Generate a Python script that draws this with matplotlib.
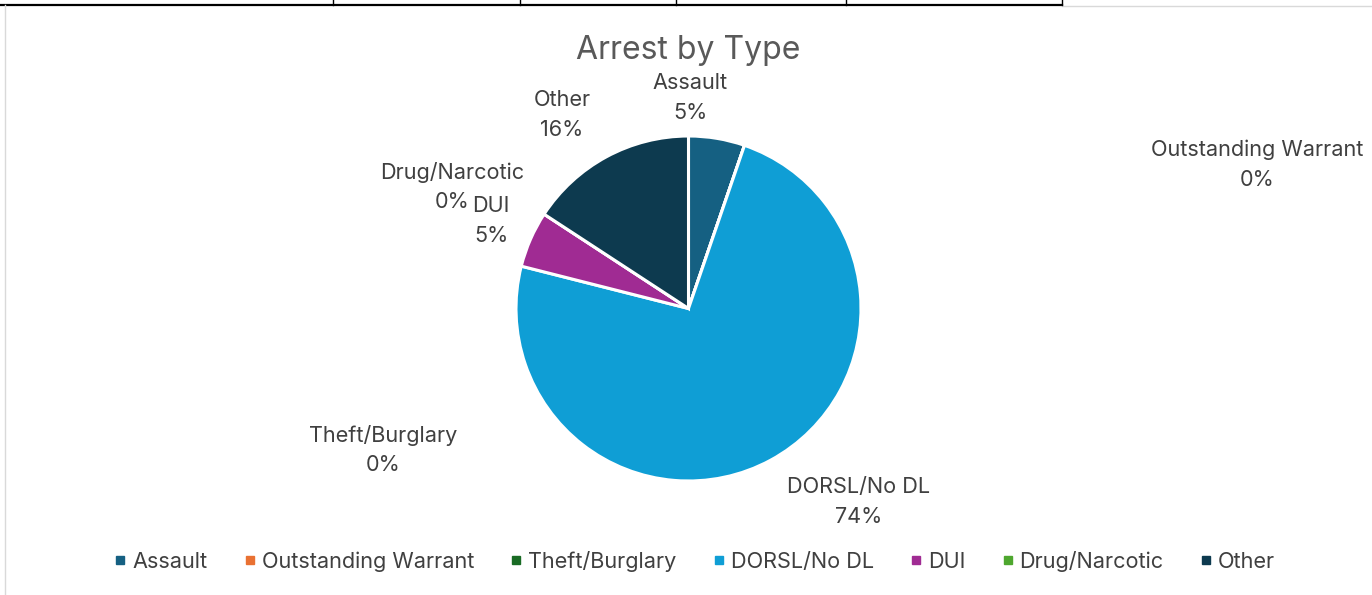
import matplotlib
matplotlib.use('Agg')
import matplotlib.pyplot as plt
from matplotlib.lines import Line2D

# ----------------------------------------------------------------------------
# Data (arrest counts by type)
# ----------------------------------------------------------------------------
categories = ["Assault", "Outstanding Warrant", "Theft/Burglary", "DORSL/No DL",
              "DUI", "Drug/Narcotic", "Other"]
counts = [1, 0, 0, 14, 1, 0, 3]
colors = ["#156082", "#E97132", "#196B24", "#0F9ED5", "#A02B93", "#4EA72E", "#0D3A4F"]

# label centres in figure pixels (best-fit positions as in the workbook)
label_pos = {
    "Assault": (690, 98),
    "Outstanding Warrant": (1257, 165),
    "Theft/Burglary": (383, 450),
    "DORSL/No DL": (859, 502),
    "DUI": (491, 221),
    "Drug/Narcotic": (452, 187),
    "Other": (562, 115),
}

W, H = 1372, 595
plt.rcParams['font.family'] = ['Inter', 'DejaVu Sans']
fig = plt.figure(figsize=(W / 100, H / 100), dpi=100)

# pie axes: centre (688.5, 308.5) px, radius 172.5 px
cx, cy, r = 688.5, 308.5, 172.5
ax = fig.add_axes([(cx - r) / W, 1 - (cy + r) / H, 2 * r / W, 2 * r / H])
ax.pie(counts, colors=colors, startangle=90, counterclock=False,
       wedgeprops=dict(edgecolor="white", linewidth=2.2))
ax.set_xlim(-1, 1)
ax.set_ylim(-1, 1)
ax.axis("off")

# data labels: category name on one line, percentage below
total = sum(counts)
for name, v in zip(categories, counts):
    x, y = label_pos[name]
    fig.text(x / W, 1 - (y - 15) / H, name, ha="center", va="center",
             fontsize=15.6, color="#404040")
    fig.text(x / W, 1 - (y + 15) / H, f"{v / total * 100:.0f}%", ha="center", va="center",
             fontsize=15.6, color="#404040")

fig.text(688 / W, 1 - 50 / H, "Arrest by Type", ha="center", va="center",
         fontsize=23, color="#595959")

# legend
handles = [Line2D([], [], marker="s", linestyle="none", markersize=6,
                  markerfacecolor=c, markeredgecolor=c) for c in colors]
fig.legend(handles, categories, loc="center", bbox_to_anchor=(695 / W, 1 - 561 / H),
           ncol=7, frameon=False, fontsize=15.6, labelcolor="#404040",
           handlelength=0.5, handletextpad=0.3, columnspacing=1.7)

# surrounding spreadsheet grid / chart frame
fig.add_artist(Line2D([0, 1062 / W], [1 - 4.5 / H] * 2, color="black", lw=1.6,
                      transform=fig.transFigure))
fig.add_artist(Line2D([1062 / W, 1], [1 - 5.5 / H] * 2, color="#D9D9D9", lw=1,
                      transform=fig.transFigure))
for xv in [333, 520, 676, 846, 1062]:
    fig.add_artist(Line2D([xv / W] * 2, [1, 1 - 4.5 / H], color="black", lw=1,
                          transform=fig.transFigure))
fig.add_artist(Line2D([5 / W] * 2, [0, 1 - 5 / H], color="#D9D9D9", lw=1,
                      transform=fig.transFigure))

fig.savefig("out.png", dpi=100)
